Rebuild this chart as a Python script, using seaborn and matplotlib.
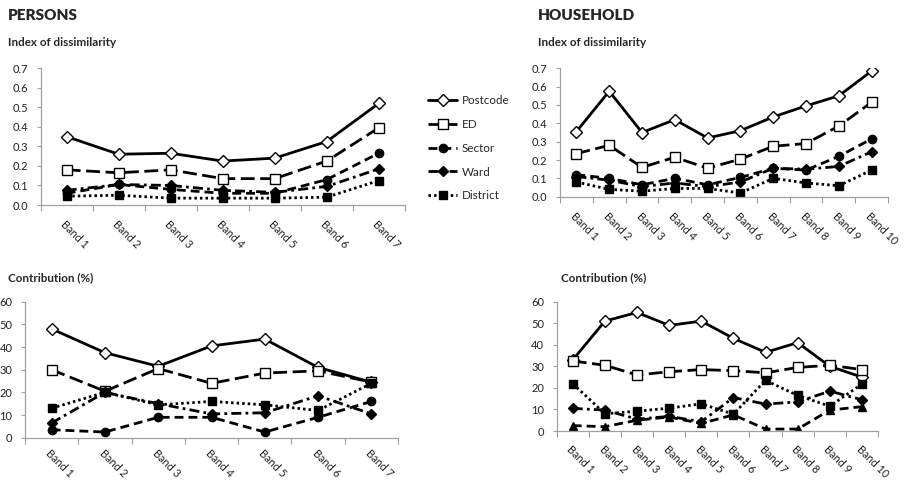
import numpy as np
import pandas as pd
import matplotlib
matplotlib.use("Agg")
import matplotlib.pyplot as plt
import matplotlib.transforms as mtransforms
import seaborn as sns
from matplotlib.lines import Line2D

sns.set_theme(style="white")
plt.rcParams['font.family'] = ['Lato', 'DejaVu Sans']

# ---------------- data ----------------
series_names = ["Postcode", "ED", "Sector", "Ward", "District"]

bands7 = ["Band 1", "Band 2", "Band 3", "Band 4", "Band 5", "Band 6", "Band 7"]
bands10 = ["Band 1", "Band 2", "Band 3", "Band 4", "Band 5", "Band 6", "Band 7",
           "Band 8", "Band 9", "Band 10"]

# Persons - index of dissimilarity
p_idx_postcode = [0.35, 0.26, 0.265, 0.225, 0.24, 0.325, 0.52]
p_idx_ed = [0.18, 0.165, 0.18, 0.135, 0.135, 0.225, 0.395]
p_idx_sector = [0.06, 0.105, 0.08, 0.06, 0.06, 0.13, 0.265]
p_idx_ward = [0.075, 0.105, 0.10, 0.075, 0.065, 0.095, 0.185]
p_idx_district = [0.045, 0.05, 0.035, 0.035, 0.035, 0.04, 0.125]

# Household - index of dissimilarity
h_idx_postcode = [0.355, 0.575, 0.35, 0.42, 0.32, 0.36, 0.435, 0.495, 0.55, 0.685]
h_idx_ed = [0.235, 0.28, 0.16, 0.215, 0.155, 0.205, 0.275, 0.29, 0.385, 0.515]
h_idx_sector = [0.12, 0.10, 0.065, 0.10, 0.065, 0.105, 0.155, 0.145, 0.22, 0.315]
h_idx_ward = [0.11, 0.09, 0.055, 0.075, 0.055, 0.08, 0.155, 0.15, 0.165, 0.245]
h_idx_district = [0.08, 0.04, 0.03, 0.045, 0.045, 0.02, 0.10, 0.075, 0.06, 0.145]

# Persons - contribution (%)
p_con_postcode = [48, 37.5, 31.5, 40.5, 43.5, 31, 24.5]
p_con_ed = [30, 20.5, 30.5, 24, 28.5, 29.5, 24.5]
p_con_sector = [3.5, 2.5, 9, 9, 2.5, 9, 16]
p_con_ward = [6.5, 20, 15, 10.5, 11, 18.5, 10.5]
p_con_district = [13, 20, 14.5, 16, 14.5, 12, 24]

# Household - contribution (%)
h_con_postcode = [33, 51, 55, 49, 51, 43, 36.5, 41, 30, 25]
h_con_ed = [32.5, 30.5, 26, 27.5, 28.5, 28, 27, 29.5, 30.5, 28.5]
h_con_sector = [2.5, 2, 5, 6.5, 3.5, 7.5, 0.9, 0.9, 9.7, 11.3]
h_con_ward = [10.5, 9.7, 5.5, 6.8, 4.3, 15.5, 12.5, 13.5, 18.5, 14.5]
h_con_district = [22, 8, 9.2, 10.6, 12.6, 7.8, 23.5, 16.5, 11.5, 21.8]

# ---------------- styles ----------------
LW = 2.0
styles = {
    "Postcode": dict(marker="D", ms=6, mfc="white", dashes=None),
    "ED": dict(marker="s", ms=6.5, mfc="white", dashes=(5, 2)),
    "Sector": dict(marker="o", ms=6, mfc="black", dashes=(3.2, 1.8)),
    "Ward": dict(marker="D", ms=5.5, mfc="black", dashes=(3.6, 1.5, 1, 1.5)),
    "District": dict(marker="s", ms=5.5, mfc="black", dashes=(0.9, 1.1)),
}

W, H = 905, 483
fig = plt.figure(figsize=(W / 100, H / 100), dpi=100)


def rect(x0, x1, ytop, ybot):
    return [x0 / W, 1 - ybot / H, (x1 - x0) / W, (ybot - ytop) / H]


ax_tl = fig.add_axes(rect(40.7, 404.7, 68.3, 205))
ax_tr = fig.add_axes(rect(560, 888, 68.3, 196.7))
ax_bl = fig.add_axes(rect(25, 398, 301.7, 437.7))
ax_br = fig.add_axes(rect(556.7, 878, 301.7, 431))


def draw(ax, bands, vals, ylim, yticks, fmt, marker_override=None, pad=9):
    for name, v in zip(series_names, vals):
        st = dict(styles[name])
        if marker_override and name in marker_override:
            st["marker"] = marker_override[name]
        df = pd.DataFrame({"band": bands, "value": v})
        sns.lineplot(data=df, x="band", y="value", ax=ax, sort=False,
                     color="black", lw=LW, marker=st["marker"], ms=st["ms"],
                     markerfacecolor=st["mfc"], markeredgecolor="black",
                     markeredgewidth=1.0, legend=False, errorbar=None)
        ln = ax.lines[-1]
        if st["dashes"] is None:
            ln.set_linestyle("-")
        else:
            ln.set_dashes(st["dashes"])
        ln.set_dash_capstyle("butt")
        ln.set_solid_joinstyle("miter")
    n = len(bands)
    ax.set_xlim(-0.5, n - 0.5)
    ax.set_ylim(*ylim)
    ax.set_yticks(yticks)
    ax.set_yticklabels([fmt.format(t) for t in yticks], fontsize=8, color="#222222")
    ax.set_xticks(range(n))
    ax.set_xticklabels(bands, rotation=-45, ha="left", va="top",
                       rotation_mode="anchor", fontsize=7.8, color="#222222")
    offset = mtransforms.ScaledTranslation(4 / 72, 0, fig.dpi_scale_trans)
    for lab in ax.get_xticklabels():
        lab.set_transform(lab.get_transform() + offset)
    ax.set_xticks(np.arange(-0.5, n, 1.0), minor=True)
    ax.tick_params(axis="x", which="major", length=0, pad=pad)
    ax.tick_params(axis="x", which="minor", length=4, width=0.8, color="#a0a0a0",
                   direction="out", bottom=True)
    ax.tick_params(axis="y", length=3, width=0.8, color="#a0a0a0", left=True, pad=6)
    for s in ["top", "right"]:
        ax.spines[s].set_visible(False)
    for s in ["left", "bottom"]:
        ax.spines[s].set_color("#a0a0a0")
        ax.spines[s].set_linewidth(0.9)
    ax.set_xlabel("")
    ax.set_ylabel("")
    ax.grid(False)
    ax.set_facecolor("white")


idx_ticks = [0.0, 0.1, 0.2, 0.3, 0.4, 0.5, 0.6, 0.7]
con_ticks = [0, 10, 20, 30, 40, 50, 60]

draw(ax_tl, bands7, [p_idx_postcode, p_idx_ed, p_idx_sector, p_idx_ward, p_idx_district],
     (0, 0.7), idx_ticks, "{:.1f}", pad=10)
draw(ax_tr, bands10, [h_idx_postcode, h_idx_ed, h_idx_sector, h_idx_ward, h_idx_district],
     (0, 0.7), idx_ticks, "{:.1f}", pad=10)
draw(ax_bl, bands7, [p_con_postcode, p_con_ed, p_con_sector, p_con_ward, p_con_district],
     (0, 60), con_ticks, "{:d}", pad=7)
draw(ax_br, bands10, [h_con_postcode, h_con_ed, h_con_sector, h_con_ward, h_con_district],
     (0, 60), con_ticks, "{:d}", marker_override={"Sector": "^"}, pad=9)

# legend
handles = []
for name in series_names:
    st = styles[name]
    h = Line2D([0], [0], color="black", lw=LW, marker=st["marker"], ms=st["ms"],
               markerfacecolor=st["mfc"], markeredgecolor="black", markeredgewidth=1.0)
    if st["dashes"] is not None:
        h.set_dashes(st["dashes"])
    handles.append(h)
fig.legend(handles, series_names, loc="upper left",
           bbox_to_anchor=(428 / W, 1 - 95 / H), frameon=False, fontsize=8.4,
           handlelength=2.5, handletextpad=0.4, labelspacing=1.1, borderpad=0,
           borderaxespad=0)

# headings
fig.text(8 / W, 1 - 15 / H, "PERSONS", fontsize=11, fontweight="heavy", va="center", ha="left")
fig.text(538 / W, 1 - 15 / H, "HOUSEHOLD", fontsize=11, fontweight="heavy", va="center", ha="left")
fig.text(8 / W, 1 - 43 / H, "Index of dissimilarity", fontsize=8.4, fontweight="bold", va="center", ha="left")
fig.text(538 / W, 1 - 43 / H, "Index of dissimilarity", fontsize=8.4, fontweight="bold", va="center", ha="left")
fig.text(8 / W, 1 - 278 / H, "Contribution (%)", fontsize=8.4, fontweight="bold", va="center", ha="left")
fig.text(561 / W, 1 - 278 / H, "Contribution (%)", fontsize=8.4, fontweight="bold", va="center", ha="left")

fig.savefig("out.png", dpi=100, facecolor="white")
